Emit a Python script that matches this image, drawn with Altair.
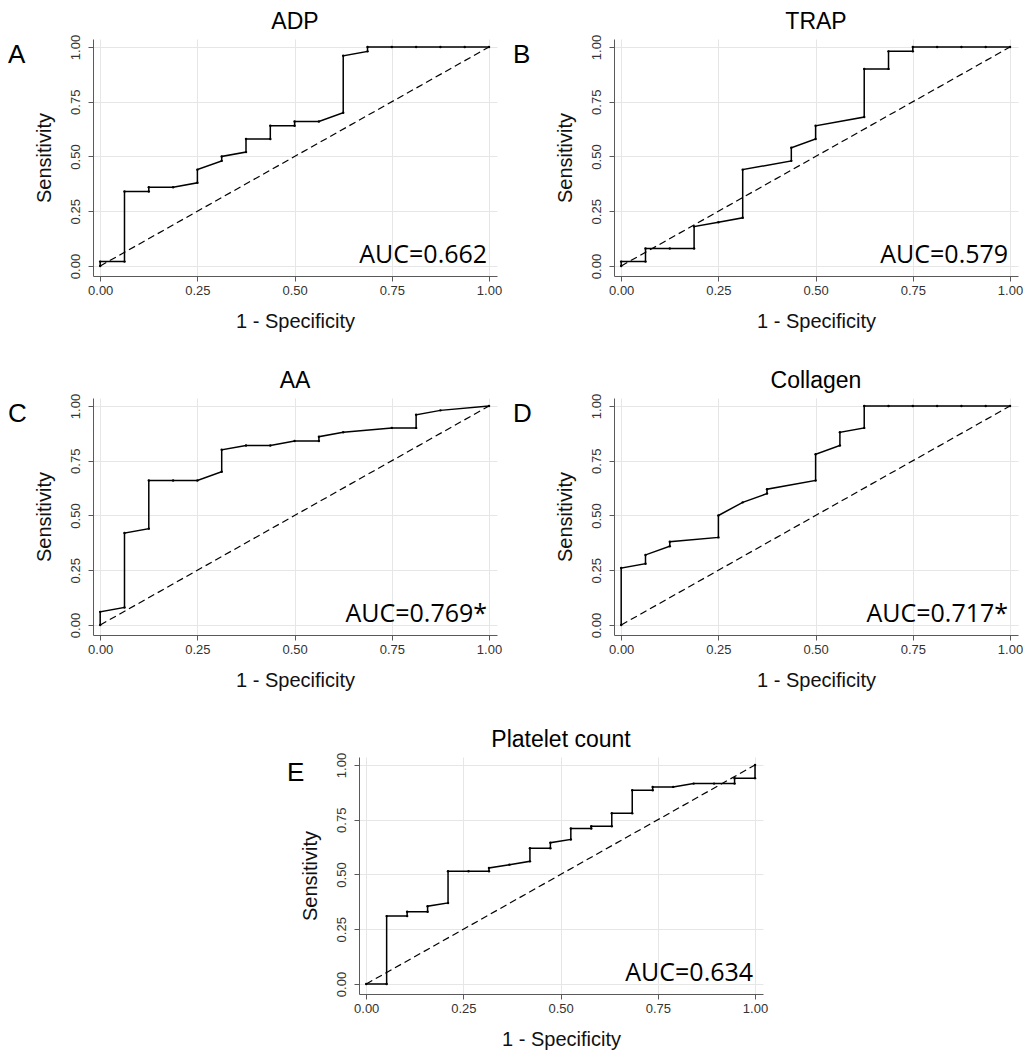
import altair as alt
import pandas as pd

# ---------------- data ----------------
TICKS = [0.0, 0.25, 0.5, 0.75, 1.0]
DIAG_X = [0.0, 1.0]
DIAG_Y = [0.0, 1.0]

ADP_X = [0, 0, 0.0625, 0.0625, 0.125, 0.125, 0.1875, 0.25, 0.25, 0.3125, 0.3125, 0.375, 0.375,
         0.4375, 0.4375, 0.5, 0.5, 0.5625, 0.625, 0.625, 0.6875, 0.6875, 0.75, 0.8125, 0.875, 0.9375, 1.0]
ADP_Y = [0, 0.02, 0.02, 0.34, 0.34, 0.36, 0.36, 0.38, 0.44, 0.48, 0.50, 0.52, 0.58,
         0.58, 0.64, 0.64, 0.66, 0.66, 0.70, 0.96, 0.98, 1.0, 1.0, 1.0, 1.0, 1.0, 1.0]

TRAP_X = [0, 0, 0.0625, 0.0625, 0.125, 0.1875, 0.1875, 0.25, 0.3125, 0.3125, 0.4375, 0.4375,
          0.5, 0.5, 0.625, 0.625, 0.6875, 0.6875, 0.75, 0.75, 0.8125, 0.875, 0.9375, 1.0]
TRAP_Y = [0, 0.02, 0.02, 0.08, 0.08, 0.08, 0.18, 0.20, 0.22, 0.44, 0.48, 0.54,
          0.58, 0.64, 0.68, 0.90, 0.90, 0.98, 0.98, 1.0, 1.0, 1.0, 1.0, 1.0]

AA_X = [0, 0, 0.0625, 0.0625, 0.125, 0.125, 0.1875, 0.25, 0.3125, 0.3125, 0.375, 0.4375,
        0.5, 0.5625, 0.5625, 0.625, 0.75, 0.8125, 0.8125, 0.875, 1.0]
AA_Y = [0, 0.06, 0.08, 0.42, 0.44, 0.66, 0.66, 0.66, 0.70, 0.80, 0.82, 0.82,
        0.84, 0.84, 0.86, 0.88, 0.90, 0.90, 0.96, 0.98, 1.0]

COL_X = [0, 0, 0.0625, 0.0625, 0.125, 0.125, 0.25, 0.25, 0.3125, 0.375, 0.375, 0.5, 0.5,
         0.5625, 0.5625, 0.625, 0.625, 0.6875, 0.75, 0.8125, 0.875, 0.9375, 1.0]
COL_Y = [0, 0.26, 0.28, 0.32, 0.36, 0.38, 0.40, 0.50, 0.56, 0.60, 0.62, 0.66, 0.78,
         0.82, 0.88, 0.90, 1.0, 1.0, 1.0, 1.0, 1.0, 1.0, 1.0]

PLT_X = [0, 0.0526, 0.0526, 0.1053, 0.1053, 0.1579, 0.1579, 0.2105, 0.2105, 0.2632, 0.3158,
         0.3158, 0.3684, 0.4211, 0.4211, 0.4737, 0.4737, 0.5263, 0.5263, 0.5789, 0.5789,
         0.6316, 0.6316, 0.6842, 0.6842, 0.7368, 0.7368, 0.7895, 0.8421, 0.8947, 0.9474,
         0.9474, 1.0, 1.0]
PLT_Y = [0, 0, 0.31, 0.31, 0.33, 0.33, 0.355, 0.37, 0.515, 0.515, 0.515,
         0.53, 0.545, 0.56, 0.62, 0.62, 0.645, 0.66, 0.71, 0.71, 0.72,
         0.72, 0.78, 0.78, 0.885, 0.885, 0.90, 0.90, 0.915, 0.915, 0.915,
         0.94, 0.94, 1.0]

TITLES = ["ADP", "TRAP", "AA", "Collagen", "Platelet count"]
LETTERS = ["A", "B", "C", "D", "E"]
AUC_LABELS = ["AUC=0.662", "AUC=0.579", "AUC=0.769*", "AUC=0.717*", "AUC=0.634"]

# ---------------- style / layout ----------------
W, H = 404, 237
XDOM = [-0.0185, 1.0205]
YDOM = [-0.0457, 1.0365]
AUC_POS = (0.995, 0.012)
FONT = "Liberation Sans"


def panel(title, letter, xs, ys, auc, letter_x):
    df = pd.DataFrame({"fpr": xs, "sens": ys, "idx": list(range(len(xs)))})
    diag = pd.DataFrame({"fpr": DIAG_X, "sens": DIAG_Y, "idx": [0, 1]})
    lab = pd.DataFrame({"fpr": [AUC_POS[0]], "sens": [AUC_POS[1]], "auc": [auc], "letter": [letter]})

    x = alt.X("fpr:Q", scale=alt.Scale(domain=XDOM, nice=False, zero=False),
              axis=alt.Axis(values=TICKS, format=".2f", title="1 - Specificity",
                            labelPadding=3, titlePadding=14.5))
    y = alt.Y("sens:Q", scale=alt.Scale(domain=YDOM, nice=False, zero=False),
              axis=alt.Axis(values=TICKS, format=".2f", title="Sensitivity",
                            labelAngle=270, labelAlign="center", labelBaseline="bottom",
                            labelPadding=6, titlePadding=15))

    d = alt.Chart(diag).mark_line(color="black", strokeWidth=1.2, strokeDash=[7, 4]).encode(
        x=x, y=y, order="idx:Q")
    l = alt.Chart(df).mark_line(color="black", strokeWidth=1.5).encode(x=x, y=y, order="idx:Q")
    p = alt.Chart(df).mark_circle(color="black", size=6, opacity=1).encode(x=x, y=y)
    t = alt.Chart(lab).mark_text(align="right", baseline="alphabetic", font="Open Sans",
                                 fontSize=25, color="black").encode(x=x, y=y, text="auc:N")
    lt = alt.Chart(lab).mark_text(align="left", baseline="alphabetic", font=FONT,
                                  fontSize=26, color="black").encode(
        x=alt.value(letter_x), y=alt.value(24), text="letter:N")
    return alt.layer(d, l, p, t, lt).properties(
        width=W, height=H,
        title=alt.Title(title, fontSize=23, font=FONT, fontWeight="normal", anchor="middle",
                        frame="group", offset=0, color="black"))


pA = panel(TITLES[0], LETTERS[0], ADP_X, ADP_Y, AUC_LABELS[0], -85)
pB = panel(TITLES[1], LETTERS[1], TRAP_X, TRAP_Y, AUC_LABELS[1], -101)
pC = panel(TITLES[2], LETTERS[2], AA_X, AA_Y, AUC_LABELS[2], -85)
pD = panel(TITLES[3], LETTERS[3], COL_X, COL_Y, AUC_LABELS[3], -101)
pE = panel(TITLES[4], LETTERS[4], PLT_X, PLT_Y, AUC_LABELS[4], -72)

# invisible spacer to centre the last panel
spacer = alt.Chart(pd.DataFrame({"v": [0]})).mark_point(opacity=0, size=1).encode(
    x=alt.value(0), y=alt.value(0)).properties(width=194, height=10)

row1 = alt.hconcat(pA, pB, spacing=11)
row2 = alt.hconcat(pC, pD, spacing=11)
row3 = alt.hconcat(spacer, pE, spacing=0)

chart = alt.vconcat(row1, row2, row3, spacing=38).properties(
    padding={"top": 3, "left": 0, "right": 0, "bottom": 0}
).configure_view(stroke=None).configure_axis(
    domainColor="#5a5a5a", tickColor="#5a5a5a", tickSize=5, domainWidth=1,
    gridColor="#e6e6e6", gridWidth=1,
    labelFont=FONT, labelFontSize=13, labelColor="#333333",
    titleFont=FONT, titleFontSize=20, titleFontWeight="normal", titleColor="#111111"
)

chart.save("out.html", embed_options={"renderer": "svg", "actions": False})
